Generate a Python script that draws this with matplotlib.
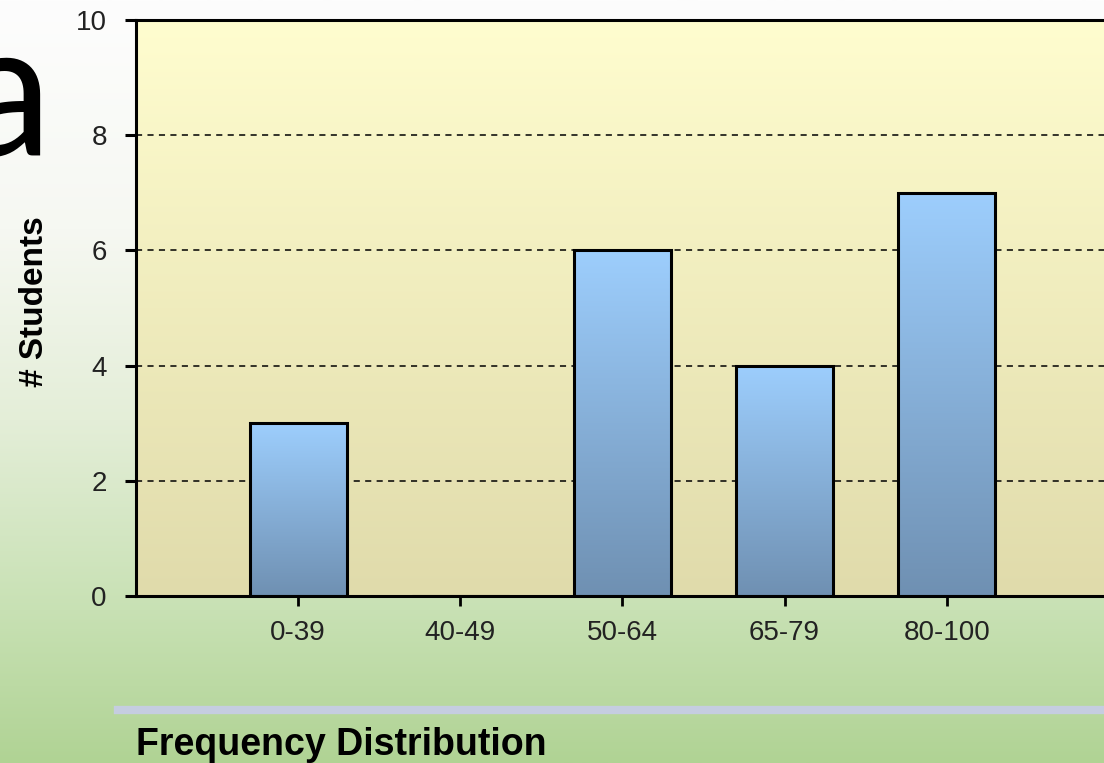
import numpy as np
import matplotlib
matplotlib.use("Agg")
import matplotlib.pyplot as plt
from matplotlib.colors import LinearSegmentedColormap
from matplotlib.lines import Line2D

# data
categories = ["0-39", "40-49", "50-64", "65-79", "80-100"]
students = [3, 0, 6, 4, 7]
y_ticks = [0, 2, 4, 6, 8, 10]

plt.rcParams["font.family"] = ["Liberation Sans", "DejaVu Sans"]

W, H = 1104, 763
fig = plt.figure(figsize=(W / 100, H / 100), dpi=100)

grad = np.linspace(0, 1, 256).reshape(-1, 1)

# slide background (green at the bottom, white at the top)
bg = fig.add_axes([0, 0, 1, 1], zorder=-10)
bg_cmap = LinearSegmentedColormap.from_list(
    "slide", [(0, "#b0d394"), (0.2, "#c8e1b4"), (0.45, "#e4eed8"),
              (0.7, "#f6f8f2"), (1, "#fdfdfd")])
bg.imshow(grad, aspect="auto", cmap=bg_cmap, origin="lower", extent=[0, 1, 0, 1])
bg.set_axis_off()

# chart
ax = fig.add_axes([136 / W, 1 - 596 / H, 1 - 136 / W, (596 - 20) / H])
x = np.arange(len(categories))
xlim = (-1, 4.97)

plot_cmap = LinearSegmentedColormap.from_list("plot", ["#e0dbab", "#fffdcf"])
ax.imshow(grad, aspect="auto", cmap=plot_cmap, origin="lower",
          extent=[xlim[0], xlim[1], 0, 10], zorder=0)

bar_cmap = LinearSegmentedColormap.from_list("bar", ["#6f90b2", "#9dcefd"])
bars = ax.bar(x, students, width=0.6, facecolor="none", edgecolor="black",
              linewidth=2.2, zorder=3)
for b in bars:
    if b.get_height() <= 0:
        continue
    im = ax.imshow(grad, aspect="auto", cmap=bar_cmap, origin="lower",
                   extent=[b.get_x(), b.get_x() + b.get_width(), 0, b.get_height()],
                   zorder=2)
    im.set_clip_path(b)

ax.set_xlim(*xlim)
ax.set_ylim(0, 10)
ax.set_xticks(x)
ax.set_xticklabels(categories)
ax.set_yticks(y_ticks)

ax.set_axisbelow(True)
ax.yaxis.grid(True, linestyle=(0, (4, 3.5)), color="black", linewidth=1.1)

for side in ["left", "bottom", "top"]:
    ax.spines[side].set_linewidth(2.2)
    ax.spines[side].set_color("black")
ax.spines["right"].set_visible(False)

ax.tick_params(axis="y", direction="out", length=8, width=2.2, pad=13,
               labelsize=20, labelcolor="#222222")
ax.tick_params(axis="x", direction="out", length=7, width=2.0, pad=10,
               labelsize=20, labelcolor="#222222")

fig.text(35 / W, 1 - 302 / H, "# Students", rotation=90, ha="center", va="center",
         fontsize=24, fontweight="bold")

# separator + caption
fig.add_artist(Line2D([118 / W, 1], [1 - 710 / H] * 2, color="#c5cde0", linewidth=6))
fig.text(136 / W, 1 - 745 / H, "Frequency Distribution", ha="left", va="center",
         fontsize=27, fontweight="bold")

# cropped slide title
fig.text(52 / W, 1 - 155 / H, "a", ha="right", va="baseline", fontsize=137,
         family=["Lato", "DejaVu Sans"])

fig.savefig("out.png", dpi=100)
